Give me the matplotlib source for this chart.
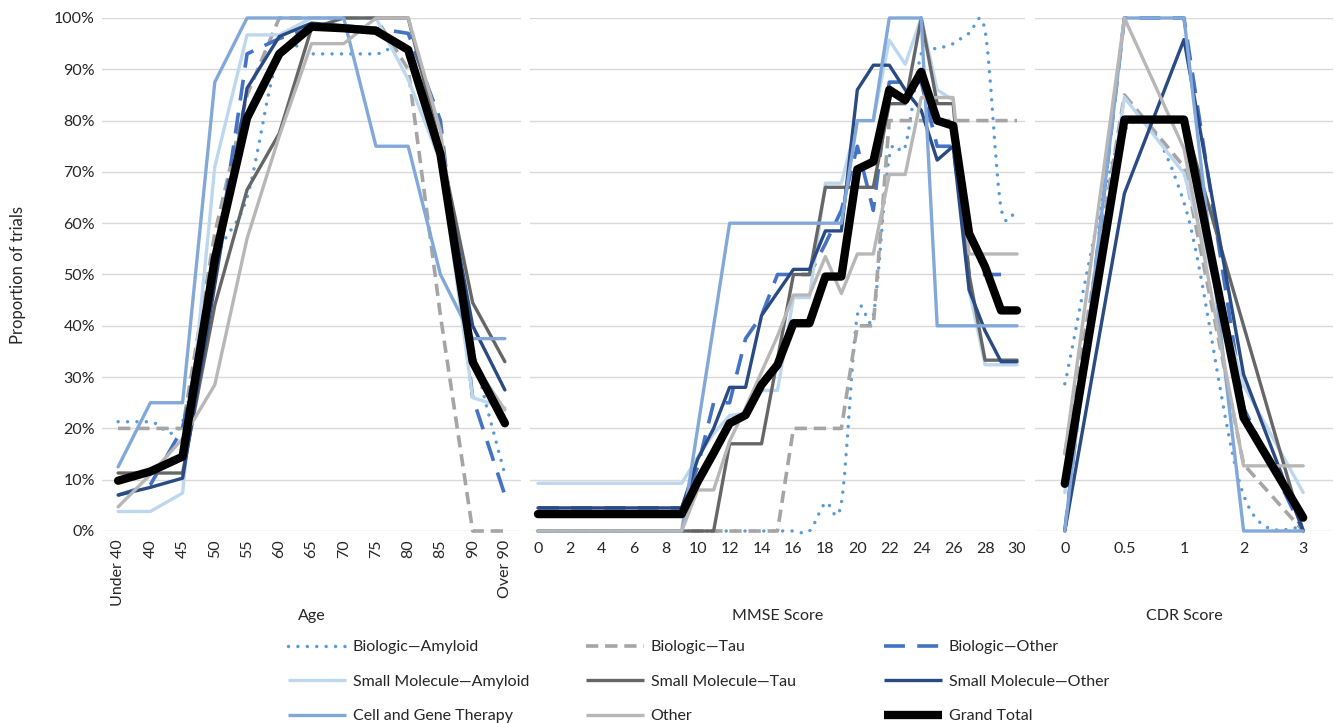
import numpy as np
import matplotlib
matplotlib.use("Agg")
import matplotlib.pyplot as plt
from matplotlib.path import Path
from matplotlib.patches import PathPatch
from matplotlib.lines import Line2D

plt.rcParams['font.family'] = ['Lato', 'DejaVu Sans']

nan = np.nan

# ---------------- data ----------------
series_names = ["Biologic\u2014Amyloid", "Biologic\u2014Tau", "Biologic\u2014Other",
                "Small Molecule\u2014Amyloid", "Small Molecule\u2014Tau", "Small Molecule\u2014Other",
                "Cell and Gene Therapy", "Other", "Grand Total"]

age_labels = ["Under 40", "40", "45", "50", "55", "60", "65", "70", "75", "80", "85", "90", "Over 90"]
mmse_labels = [str(i) for i in range(31)]
cdr_labels = ["0", "0.5", "1", "2", "3"]

# Age panel (percent of trials)
age_bio_amyloid = [21.3, 21.3, 21.3, 52, 65, 93, 93, 93, 93, 93, 73, 36, 11]
age_bio_tau = [20, 20, 20, 58, 85, 100, 100, 100, 100, 90, 42, 0, 0]
age_bio_other = [7, 9, 20, 50, 93, 96, 98, 98, 98, 97, 80, 26, 7]
age_sm_amyloid = [3.8, 3.8, 7.4, 71, 96.7, 96.7, 100, 100, 100, 88, 72, 26, 24]
age_sm_tau = [11.3, 11.3, 11.3, 44, 66.5, 77.5, 98, 100, 100, 100, 75, 44.5, 33]
age_sm_other = [7, 8.5, 10.3, 48, 86.3, 96.4, 99, 98.5, 98, 94, 74, 40, 27.5]
age_cell_gene = [12.5, 25, 25, 87.5, 100, 100, 100, 100, 75, 75, 50, 37.5, 37.5]
age_other = [4.7, 11, 18, 28.5, 57, 77, 95, 95, 100, 100, 78, 33, 23.6]
age_total = [9.8, 11.6, 14.5, 53, 80.5, 93, 98.3, 98, 97.5, 93.8, 73.5, 33, 21]

# MMSE panel (scores 0..30)
mmse_bio_amyloid = [0, 0, 0, 0, 0, 0, 0, 0, 0, 0, 0, 0, 0, 0, 0, 0, 0, 0,
                    5.5, 5.5, 42, 42, 73, 75, 93, 94, 95, 97, 97.5, 63, 63]
mmse_bio_tau = [0, 0, 0, 0, 0, 0, 0, 0, 0, 0, 0, 0, 0, 0, 0, 0,
                20, 20, 20, 20, 40, 40, 80, 80, 80, 80, 80, 80, 80, 80, 80]
mmse_bio_other = [4.5, 4.5, 4.5, 4.5, 4.5, 4.5, 4.5, 4.5, 4.5, 4.5,
                  12.5, 25, 25, 37.5, 42, 50, 50, 50, 56, 62.5, 75, 62.5,
                  87.5, 87.5, 87.5, 75, 75, 50, 50, 50, nan]
mmse_sm_amyloid = [9.3, 9.3, 9.3, 9.3, 9.3, 9.3, 9.3, 9.3, 9.3, 9.3,
                   14.4, 19, 22.5, 23, 27.4, 27.4, 45.5, 45.5, 67.8, 67.8, 80, 80,
                   95.7, 91, 100, 86, 84, 47, 32.4, 32.4, 32.4]
mmse_sm_tau = [0, 0, 0, 0, 0, 0, 0, 0, 0, 0, 0, 0,
               17, 17, 17, 33.5, 50, 50, 67, 67, 67, 67, 83.3, 83.3, 100,
               83.3, 83.3, 50, 33.3, 33.3, 33.3]
mmse_sm_other = [4.5, 4.5, 4.5, 4.5, 4.5, 4.5, 4.5, 4.5, 4.5, 4.5,
                 14, 20, 28, 28, 42, 46.5, 51, 51, 58.5, 58.5, 86, 90.8,
                 90.8, 86, 82, 72.3, 75, 47, 39, 33, 33]
mmse_cell_gene = [0, 0, 0, 0, 0, 0, 0, 0, 0, 0, 20, 40,
                  60, 60, 60, 60, 60, 60, 60, 60, 80, 80, 100, 100, 100,
                  40, 40, 40, 40, 40, 40]
mmse_other = [0, 0, 0, 0, 0, 0, 0, 0, 0, 0, 8, 8,
              17.5, 24, 31, 38, 46, 46, 53.5, 46.3, 54, 54, 69.5, 69.5,
              84.5, 84.5, 84.5, 54, 54, 54, 54]
mmse_total = [3.3, 3.3, 3.3, 3.3, 3.3, 3.3, 3.3, 3.3, 3.3, 3.3,
              9.6, 15.2, 21, 22.6, 28.5, 32.4, 40.5, 40.5, 49.6, 49.6,
              70.5, 72, 86, 84, 89.5, 80, 79, 58, 51.5, 43, 43]

# CDR panel
cdr_bio_amyloid = [28.7, 78, 64, 7, 0.5]
cdr_bio_tau = [15, 85, 71, 13, 0]
cdr_bio_other = [0, 100, 100, 24, 0]
cdr_sm_amyloid = [7.5, 84.5, 69.7, 28.4, 7.5]
cdr_sm_tau = [10, 80, 80, 40, 0]
cdr_sm_other = [0, 65.8, 95.8, 30.5, 0]
cdr_cell_gene = [0, 100, 100, 0, 0]
cdr_other = [15, 100, 74.5, 12.7, 12.7]
cdr_total = [9.2, 80.2, 80.2, 22.1, 2.6]

age_series = [age_bio_amyloid, age_bio_tau, age_bio_other, age_sm_amyloid, age_sm_tau,
              age_sm_other, age_cell_gene, age_other, age_total]
mmse_series = [mmse_bio_amyloid, mmse_bio_tau, mmse_bio_other, mmse_sm_amyloid, mmse_sm_tau,
               mmse_sm_other, mmse_cell_gene, mmse_other, mmse_total]
cdr_series = [cdr_bio_amyloid, cdr_bio_tau, cdr_bio_other, cdr_sm_amyloid, cdr_sm_tau,
              cdr_sm_other, cdr_cell_gene, cdr_other, cdr_total]

# ---------------- styles ----------------
styles = [
    dict(color="#5B9BD5", lw=2.5, ls=(0, (0.01, 2.7)), cap="round", smooth=True),
    dict(color="#A5A5A5", lw=2.6, ls=(0, (3.4, 1.9)), cap="butt", smooth=False),
    dict(color="#4472C4", lw=2.6, ls=(0, (5.8, 3.4)), cap="butt", smooth=False),
    dict(color="#BDD7EE", lw=2.4, ls="-", cap="round", smooth=False),
    dict(color="#666666", lw=2.4, ls="-", cap="round", smooth=False),
    dict(color="#294A82", lw=2.4, ls="-", cap="round", smooth=False),
    dict(color="#82A8DA", lw=2.4, ls="-", cap="round", smooth=False),
    dict(color="#B7B7B7", lw=2.4, ls="-", cap="round", smooth=False),
    dict(color="#000000", lw=6.0, ls="-", cap="round", smooth=False),
]


def smooth_path(x, y):
    pts = np.column_stack([x, y]).astype(float)
    n = len(pts)
    verts = [pts[0]]
    codes = [Path.MOVETO]
    for i in range(n - 1):
        p0 = pts[i - 1] if i > 0 else pts[i]
        p1 = pts[i]
        p2 = pts[i + 1]
        p3 = pts[i + 2] if i + 2 < n else pts[i + 1]
        c1 = p1 + (p2 - p0) / 6.0
        c2 = p2 - (p3 - p1) / 6.0
        verts += [c1, c2, p2]
        codes += [Path.CURVE4] * 3
    return Path(verts, codes)


W, H = 1335, 723
fig = plt.figure(figsize=(W / 100, H / 100), dpi=100)

bottom = (H - 531) / H
height = 513 / H
panels = [
    (102, 521, age_labels, age_series, "Age"),
    (530, 1025, mmse_labels, mmse_series, "MMSE Score"),
    (1035, 1333, cdr_labels, cdr_series, "CDR Score"),
]

text_color = "#262626"
axes = []
for pi, (x0, x1, labels, series, title) in enumerate(panels):
    ax = fig.add_axes([x0 / W, bottom, (x1 - x0) / W, height])
    axes.append(ax)
    xs = np.arange(len(labels))
    for s, st in zip(series, styles):
        y = np.array(s, dtype=float)
        if st["smooth"]:
            path = smooth_path(xs, y)
            patch = PathPatch(path, fill=False, edgecolor=st["color"], lw=st["lw"],
                              linestyle=st["ls"], capstyle=st["cap"], joinstyle="round",
                              clip_on=False, zorder=3)
            ax.add_patch(patch)
        else:
            ax.plot(xs, y, color=st["color"], lw=st["lw"], linestyle=st["ls"],
                    dash_capstyle=st["cap"], solid_capstyle="round",
                    solid_joinstyle="round", dash_joinstyle="round",
                    clip_on=False, zorder=3)
    ax.set_xlim(-0.5, len(labels) - 0.5)
    ax.set_ylim(0, 100)
    ax.set_yticks(np.arange(0, 101, 10))
    ax.grid(axis="y", color="#D9D9D9", lw=1.0, zorder=0)
    ax.set_axisbelow(True)
    for sp in ax.spines.values():
        sp.set_visible(False)
    ax.tick_params(axis="both", length=0, labelsize=11.5, colors=text_color)
    if pi == 0:
        ax.set_xticks(xs)
        ax.set_xticklabels(labels, rotation=90)
        ax.set_yticklabels([f"{v}%" for v in range(0, 101, 10)])
        ax.tick_params(axis="y", pad=5)
        ax.tick_params(axis="x", pad=6)
    else:
        ax.set_yticklabels([])
        if pi == 1:
            ax.set_xticks(xs[::2])
            ax.set_xticklabels(labels[::2])
        else:
            ax.set_xticks(xs)
            ax.set_xticklabels(labels)
        ax.tick_params(axis="x", pad=8)
    ax.set_xlabel(title, fontsize=11.5, color=text_color)
    ax.xaxis.set_label_coords(0.5, -0.152)

fig.text(18 / W, (H - 275) / H, "Proportion of trials", rotation=90,
         ha="center", va="center", fontsize=12, color=text_color)

# ---------------- legend (three columns) ----------------
handles = []
for st in styles:
    handles.append(Line2D([], [], color=st["color"], lw=st["lw"], linestyle=st["ls"],
                          dash_capstyle=st["cap"], solid_capstyle="butt"))

col_x = [288, 586, 884]
top_y = (H - 640) / H
for c in range(3):
    idx = [c, c + 3, c + 6]
    leg = fig.legend([handles[i] for i in idx], [series_names[i] for i in idx],
                     loc="upper left", bbox_to_anchor=(col_x[c] / W, top_y),
                     frameon=False, fontsize=11.5, handlelength=3.6, handletextpad=0.45,
                     labelspacing=1.27, borderpad=0, borderaxespad=0)
    for t in leg.get_texts():
        t.set_color(text_color)

fig.savefig("out.png", dpi=100)
